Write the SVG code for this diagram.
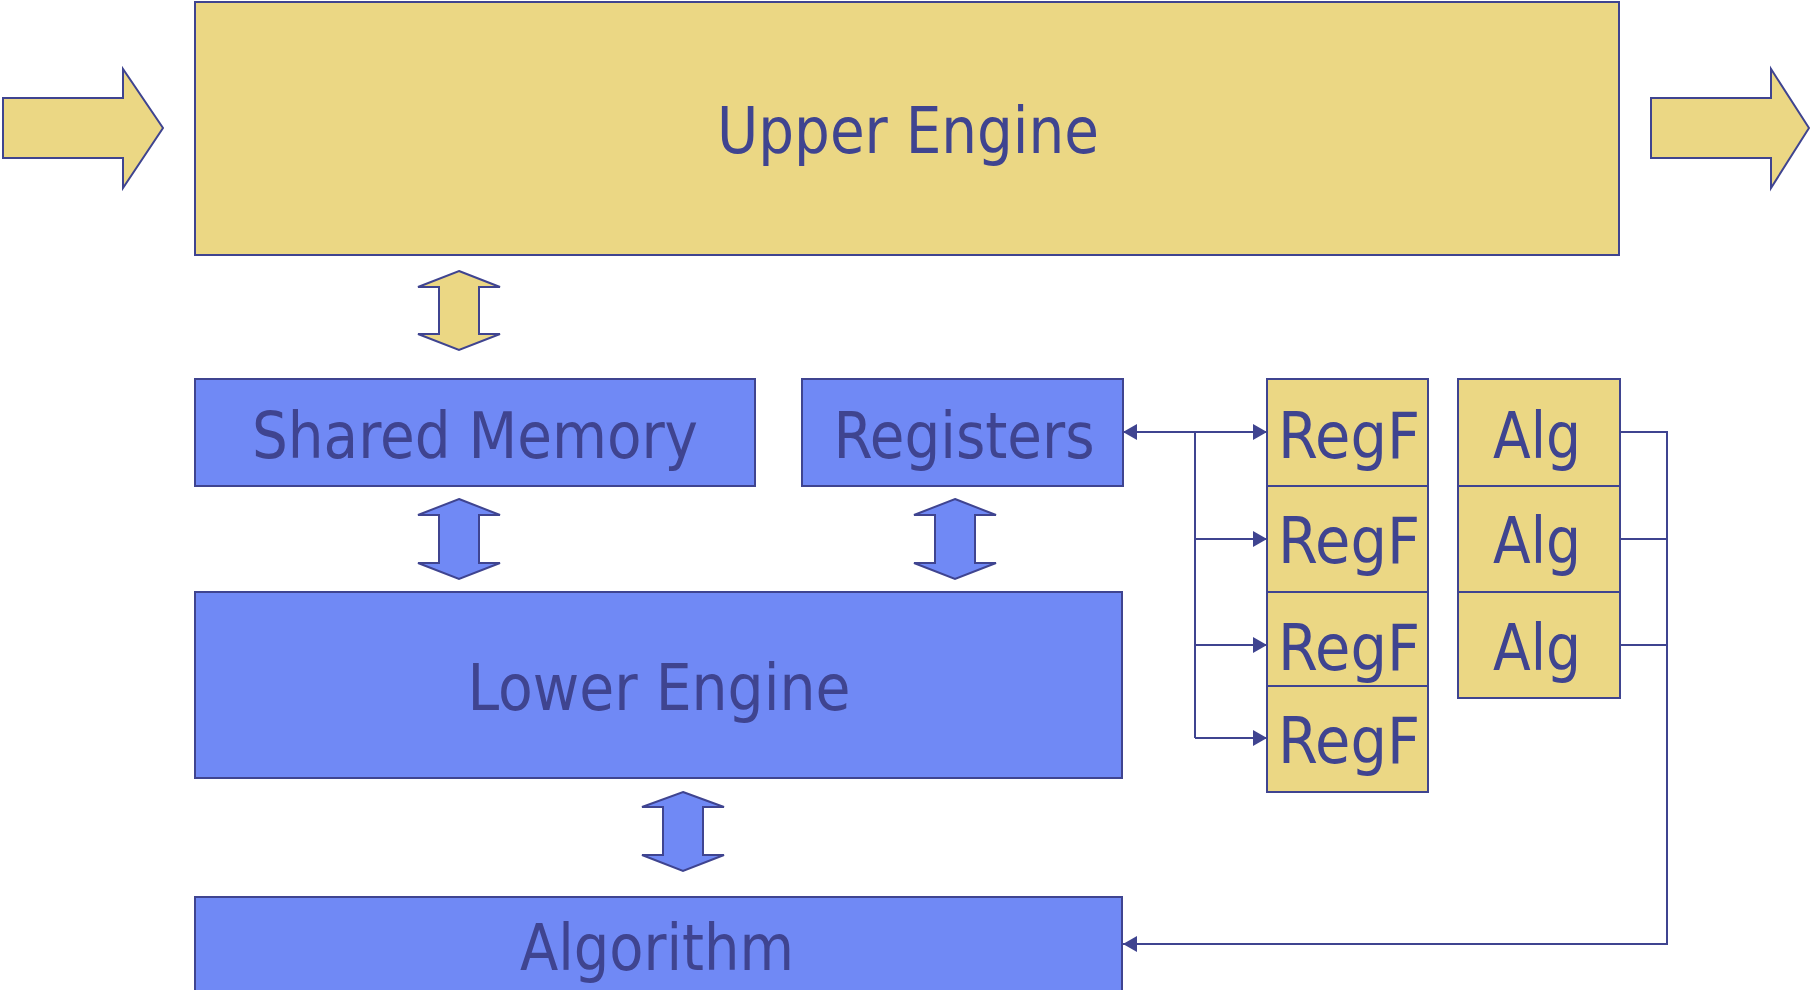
<svg xmlns="http://www.w3.org/2000/svg" width="1810" height="990" viewBox="0 0 1810 990">
<defs>
<style>
.y{fill:#EBD784;stroke:#3F4490;stroke-width:2}
.b{fill:#7089F5;stroke:#3F4490;stroke-width:2}
.t{font-family:"DejaVu Sans Condensed","DejaVu Sans",sans-serif;font-size:64px;fill:#3F4490;text-anchor:middle}
.c{fill:none;stroke:#3F4490;stroke-width:2}
</style>
<marker id="ah" viewBox="0 0 14 16" refX="14" refY="8" markerWidth="14" markerHeight="16" markerUnits="userSpaceOnUse" orient="auto-start-reverse">
<path d="M0,0 L14,8 L0,16 Z" fill="#3F4490"/>
</marker>
</defs>
<rect width="1810" height="990" fill="#FFFFFF"/>

<g id="arrow-in"><polygon class="y" points="3,98 123,98 123,69 163,128 123,188 123,158 3,158"/></g>
<g id="arrow-out"><polygon class="y" points="1651,98 1771,98 1771,69 1809,128 1771,188 1771,158 1651,158"/></g>

<g id="upper-engine">
<rect class="y" x="195" y="2" width="1424" height="253"/>
<text class="t" x="908" y="153" textLength="382" lengthAdjust="spacingAndGlyphs">Upper Engine</text>
</g>

<g id="dbl-arrow-upper"><polygon class="y" points="459,271 500,287 479,287 479,334 500,334 459,350 418,334 439,334 439,287 418,287"/></g>

<g id="shared-memory">
<rect class="b" x="195" y="379" width="560" height="107"/>
<text class="t" x="475" y="458" textLength="446" lengthAdjust="spacingAndGlyphs">Shared Memory</text>
</g>

<g id="registers">
<rect class="b" x="802" y="379" width="321" height="107"/>
<text class="t" x="964" y="458" textLength="261" lengthAdjust="spacingAndGlyphs">Registers</text>
</g>

<g id="dbl-arrow-shared"><polygon class="b" points="459,499 500,515 479,515 479,563 500,563 459,579 418,563 439,563 439,515 418,515"/></g>
<g id="dbl-arrow-registers"><polygon class="b" points="955,499 996,515 975,515 975,563 996,563 955,579 914,563 935,563 935,515 914,515"/></g>

<g id="lower-engine">
<rect class="b" x="195" y="592" width="927" height="186"/>
<text class="t" x="659" y="710" textLength="383" lengthAdjust="spacingAndGlyphs">Lower Engine</text>
</g>

<g id="dbl-arrow-lower"><polygon class="b" points="683,792 724,807 703,807 703,855 724,855 683,871 642,855 663,855 663,807 642,807"/></g>

<g id="algorithm">
<rect class="b" x="195" y="897" width="927" height="110"/>
<text class="t" x="657" y="970" textLength="274" lengthAdjust="spacingAndGlyphs">Algorithm</text>
</g>

<g id="regf-1"><rect class="y" x="1267" y="379" width="161" height="107"/><text class="t" x="1349" y="458" textLength="142" lengthAdjust="spacingAndGlyphs">RegF</text></g>
<g id="regf-2"><rect class="y" x="1267" y="486" width="161" height="106"/><text class="t" x="1349" y="563" textLength="142" lengthAdjust="spacingAndGlyphs">RegF</text></g>
<g id="regf-3"><rect class="y" x="1267" y="592" width="161" height="106"/><text class="t" x="1349" y="670" textLength="142" lengthAdjust="spacingAndGlyphs">RegF</text></g>
<g id="regf-4"><rect class="y" x="1267" y="686" width="161" height="106"/><text class="t" x="1349" y="763" textLength="142" lengthAdjust="spacingAndGlyphs">RegF</text></g>

<g id="alg-1"><rect class="y" x="1458" y="379" width="162" height="107"/><text class="t" x="1537" y="458" textLength="88" lengthAdjust="spacingAndGlyphs">Alg</text></g>
<g id="alg-2"><rect class="y" x="1458" y="486" width="162" height="106"/><text class="t" x="1537" y="563" textLength="88" lengthAdjust="spacingAndGlyphs">Alg</text></g>
<g id="alg-3"><rect class="y" x="1458" y="592" width="162" height="106"/><text class="t" x="1537" y="670" textLength="88" lengthAdjust="spacingAndGlyphs">Alg</text></g>

<g id="connectors">
<path class="c" d="M1123,432 L1267,432" marker-start="url(#ah)" marker-end="url(#ah)"/>
<path class="c" d="M1195,432 L1195,738"/>
<path class="c" d="M1195,539 L1267,539" marker-end="url(#ah)"/>
<path class="c" d="M1195,645 L1267,645" marker-end="url(#ah)"/>
<path class="c" d="M1195,738 L1267,738" marker-end="url(#ah)"/>
<path class="c" d="M1620,432 L1667,432 L1667,944 L1123,944" marker-end="url(#ah)"/>
<path class="c" d="M1620,539 L1667,539"/>
<path class="c" d="M1620,645 L1667,645"/>
</g>
</svg>
